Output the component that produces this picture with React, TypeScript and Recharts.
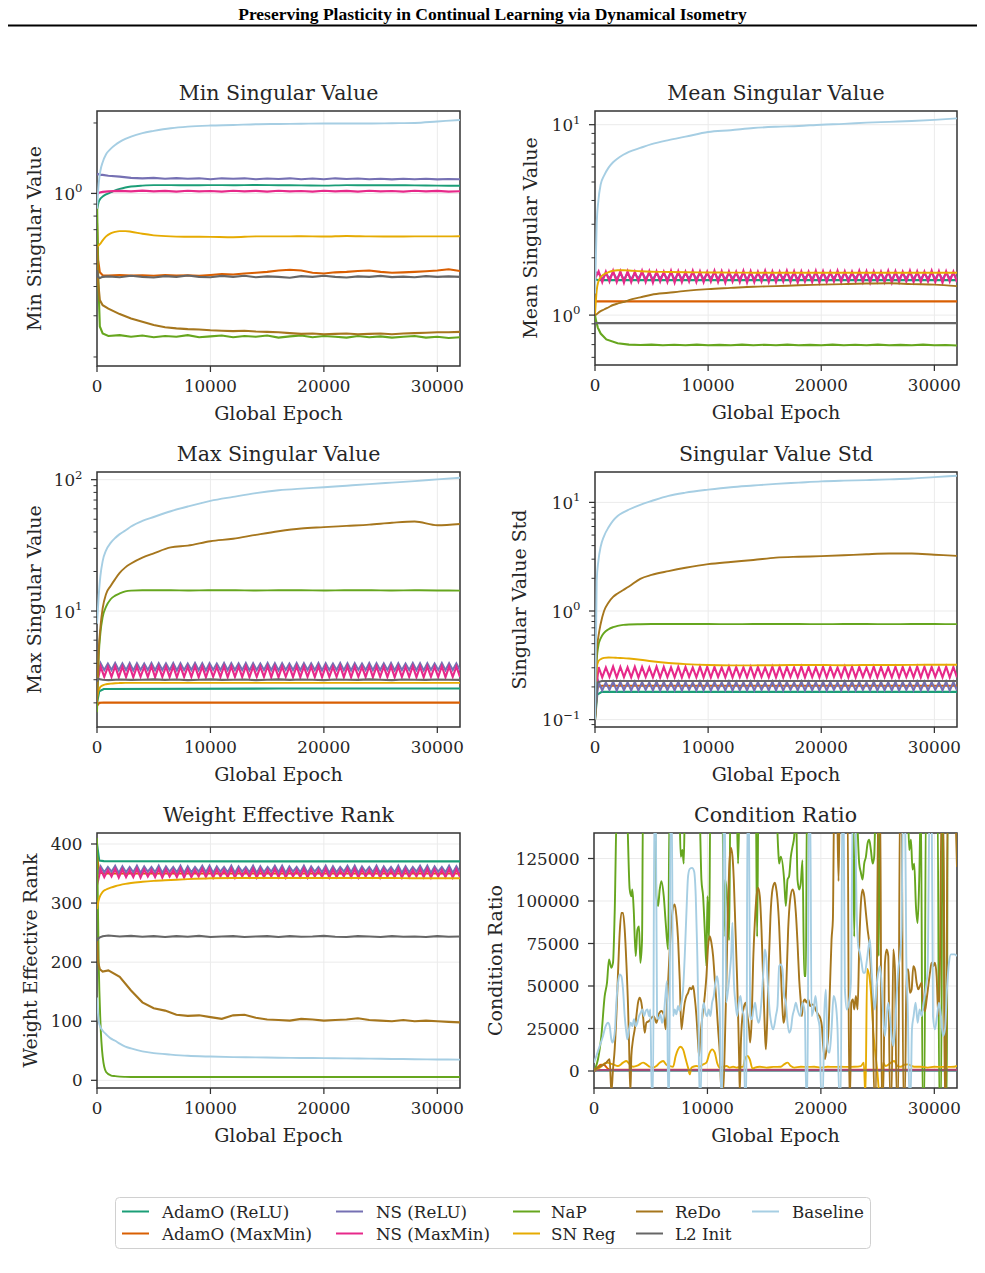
import React from 'react'
import { LineChart, Line, XAxis, YAxis, CartesianGrid, ReferenceArea } from 'recharts'

const NAMES = ['AdamO (ReLU)', 'AdamO (MaxMin)', 'NS (ReLU)', 'NS (MaxMin)', 'NaP', 'SN Reg', 'ReDo', 'L2 Init', 'Baseline']
const COLORS: Record<string, string> = {
  'AdamO (ReLU)': '#1b9e77',
  'AdamO (MaxMin)': '#d95f02',
  'NS (ReLU)': '#7570b3',
  'NS (MaxMin)': '#e7298a',
  'NaP': '#66a61e',
  'SN Reg': '#e6ab02',
  'ReDo': '#a6761d',
  'L2 Init': '#666666',
  'Baseline': '#a6cee3',
}

const X_TICKS = [0, 10000, 20000, 30000]

// sampling grids (global epoch)
const SMOOTH_X = [0, 150, 300, 500, 800, 1200, 1600, 2000, 2500, 3000, 4000, 5000, 6500, 8000, 10000, 12000, 14000, 16000, 18000, 20000, 22000, 24000, 26000, 28000, 30000, 32000]
const NOISY_X = [0, 100, 250, 500, 1000, 2000, 3000, 4000, 5000, 6000, 7000, 8000, 9000, 10000, 11000, 12000, 13000, 14000, 15000, 16000, 17000, 18000, 19000, 20000, 21000, 22000, 23000, 24000, 25000, 26000, 27000, 28000, 29000, 30000, 31000, 32000]
const START_X = [0, 200, 600, 16000, 32000]
const ZIG_X = [
  0, 320, 640, 960, 1280, 1600, 1920, 2240, 2560, 2880,
  3200, 3520, 3840, 4160, 4480, 4800, 5120, 5440, 5760, 6080,
  6400, 6720, 7040, 7360, 7680, 8000, 8320, 8640, 8960, 9280,
  9600, 9920, 10240, 10560, 10880, 11200, 11520, 11840, 12160, 12480,
  12800, 13120, 13440, 13760, 14080, 14400, 14720, 15040, 15360, 15680,
  16000, 16320, 16640, 16960, 17280, 17600, 17920, 18240, 18560, 18880,
  19200, 19520, 19840, 20160, 20480, 20800, 21120, 21440, 21760, 22080,
  22400, 22720, 23040, 23360, 23680, 24000, 24320, 24640, 24960, 25280,
  25600, 25920, 26240, 26560, 26880, 27200, 27520, 27840, 28160, 28480,
  28800, 29120, 29440, 29760, 30080, 30400, 30720, 31040, 31360, 31680,
  32000,
]

// ---- Min Singular Value ----
const MIN_ADAMO_RELU = [0.85, 0.92, 0.95, 0.97, 0.99, 1.01, 1.03, 1.045, 1.06, 1.07, 1.08, 1.085, 1.085, 1.083, 1.085, 1.084, 1.086, 1.084, 1.082, 1.08, 1.085, 1.083, 1.084, 1.082, 1.08, 1.078]
const MIN_ADAMO_MAXMIN = [0.75, 0.52, 0.46, 0.447, 0.446, 0.448, 0.446, 0.447, 0.445, 0.448, 0.446, 0.447, 0.445, 0.448, 0.452, 0.45, 0.455, 0.458, 0.462, 0.468, 0.472, 0.468, 0.458, 0.455, 0.46, 0.462, 0.466, 0.468, 0.462, 0.458, 0.46, 0.462, 0.465, 0.468, 0.474, 0.466]
const MIN_NS_RELU = [1.2, 1.21, 1.2, 1.2, 1.19, 1.18, 1.165, 1.16, 1.165, 1.155, 1.162, 1.155, 1.16, 1.15, 1.16, 1.155, 1.16, 1.15, 1.158, 1.152, 1.16, 1.15, 1.158, 1.15, 1.16, 1.152, 1.158, 1.15, 1.155, 1.148, 1.155, 1.15, 1.156, 1.148, 1.152, 1.15]
const MIN_NS_MAXMIN = [0.99, 1.0, 1.01, 1.015, 1.02, 1.025, 1.02, 1.028, 1.02, 1.025, 1.018, 1.026, 1.02, 1.024, 1.018, 1.027, 1.02, 1.025, 1.018, 1.026, 1.02, 1.024, 1.018, 1.027, 1.02, 1.025, 1.018, 1.026, 1.02, 1.024, 1.018, 1.026, 1.02, 1.025, 1.018, 1.022]
const MIN_NAP = [0.95, 0.45, 0.27, 0.252, 0.246, 0.248, 0.244, 0.247, 0.243, 0.246, 0.244, 0.248, 0.243, 0.245, 0.247, 0.243, 0.246, 0.244, 0.247, 0.242, 0.245, 0.247, 0.243, 0.246, 0.244, 0.242, 0.246, 0.243, 0.245, 0.242, 0.244, 0.246, 0.242, 0.244, 0.241, 0.243]
const MIN_SN_REG = [0.59, 0.6, 0.61, 0.63, 0.655, 0.675, 0.685, 0.69, 0.69, 0.686, 0.672, 0.662, 0.655, 0.653, 0.652, 0.65, 0.655, 0.655, 0.656, 0.654, 0.658, 0.655, 0.654, 0.655, 0.655, 0.656]
const MIN_REDO = [0.6, 0.42, 0.35, 0.333, 0.322, 0.305, 0.292, 0.283, 0.274, 0.268, 0.265, 0.263, 0.262, 0.26, 0.259, 0.258, 0.259, 0.257, 0.256, 0.255, 0.253, 0.251, 0.252, 0.25, 0.251, 0.252, 0.25, 0.251, 0.252, 0.25, 0.252, 0.253, 0.254, 0.255, 0.255, 0.256]
const MIN_L2 = [0.47, 0.44, 0.435, 0.44, 0.442, 0.438, 0.445, 0.44, 0.437, 0.443, 0.44, 0.446, 0.44, 0.438, 0.444, 0.44, 0.445, 0.438, 0.442, 0.44, 0.436, 0.443, 0.44, 0.445, 0.44, 0.437, 0.442, 0.44, 0.444, 0.439, 0.441, 0.438, 0.443, 0.44, 0.442, 0.44]
const MIN_BASELINE = [0.86, 1.1, 1.25, 1.36, 1.47, 1.55, 1.61, 1.66, 1.71, 1.75, 1.81, 1.85, 1.9, 1.93, 1.95, 1.96, 1.975, 1.98, 1.985, 1.99, 1.99, 1.99, 1.995, 2.0, 2.03, 2.06]

// ---- Mean Singular Value ----
const MEAN_ADAMO_RELU = [1.55, 1.53, 1.527, 1.526, 1.526]
const MEAN_ADAMO_MAXMIN = [1.18, 1.18, 1.18, 1.18, 1.18]
const MEAN_NS_RELU = [
  1.68, 1.66, 1.55, 1.65, 1.56, 1.67, 1.55, 1.66, 1.54, 1.66,
  1.55, 1.65, 1.56, 1.67, 1.55, 1.66, 1.54, 1.66, 1.56, 1.65,
  1.55, 1.67, 1.54, 1.66, 1.55, 1.65, 1.56, 1.67, 1.55, 1.66,
  1.55, 1.65, 1.56, 1.67, 1.55, 1.66, 1.54, 1.66, 1.56, 1.65,
  1.55, 1.67, 1.54, 1.66, 1.55, 1.65, 1.56, 1.67, 1.55, 1.66,
  1.55, 1.65, 1.56, 1.67, 1.55, 1.66, 1.54, 1.66, 1.56, 1.65,
  1.55, 1.67, 1.54, 1.66, 1.55, 1.65, 1.56, 1.67, 1.55, 1.66,
  1.55, 1.65, 1.56, 1.67, 1.55, 1.66, 1.54, 1.66, 1.56, 1.65,
  1.55, 1.67, 1.54, 1.66, 1.55, 1.65, 1.56, 1.67, 1.55, 1.66,
  1.55, 1.65, 1.56, 1.67, 1.55, 1.66, 1.54, 1.66, 1.56, 1.65,
  1.55,
]
const MEAN_NS_MAXMIN = [
  1.55, 1.7, 1.49, 1.69, 1.5, 1.71, 1.49, 1.7, 1.48, 1.7,
  1.49, 1.69, 1.5, 1.71, 1.49, 1.7, 1.48, 1.7, 1.5, 1.69,
  1.49, 1.71, 1.48, 1.7, 1.49, 1.69, 1.5, 1.71, 1.49, 1.7,
  1.49, 1.69, 1.5, 1.71, 1.49, 1.7, 1.48, 1.7, 1.5, 1.69,
  1.49, 1.71, 1.48, 1.7, 1.49, 1.69, 1.5, 1.71, 1.49, 1.7,
  1.49, 1.69, 1.5, 1.71, 1.49, 1.7, 1.48, 1.7, 1.5, 1.69,
  1.49, 1.71, 1.48, 1.7, 1.49, 1.69, 1.5, 1.71, 1.49, 1.7,
  1.49, 1.69, 1.5, 1.71, 1.49, 1.7, 1.48, 1.7, 1.5, 1.69,
  1.49, 1.71, 1.48, 1.7, 1.49, 1.69, 1.5, 1.71, 1.49, 1.7,
  1.49, 1.69, 1.5, 1.71, 1.49, 1.7, 1.48, 1.7, 1.5, 1.69,
  1.49,
]
const MEAN_NAP = [1.0, 0.93, 0.86, 0.8, 0.745, 0.712, 0.7, 0.697, 0.7, 0.694, 0.699, 0.695, 0.7, 0.694, 0.698, 0.695, 0.7, 0.694, 0.699, 0.695, 0.7, 0.694, 0.698, 0.695, 0.7, 0.694, 0.699, 0.695, 0.7, 0.694, 0.698, 0.695, 0.7, 0.694, 0.697, 0.693]
const MEAN_SN_REG = [1.0, 1.35, 1.5, 1.58, 1.64, 1.68, 1.71, 1.72, 1.72, 1.715, 1.7, 1.69, 1.685, 1.68, 1.675, 1.672, 1.67, 1.67, 1.668, 1.668, 1.67, 1.668, 1.668, 1.67, 1.668, 1.668]
const MEAN_REDO = [1.0, 1.01, 1.03, 1.05, 1.07, 1.1, 1.13, 1.15, 1.17, 1.2, 1.24, 1.28, 1.31, 1.34, 1.37, 1.39, 1.41, 1.42, 1.435, 1.445, 1.455, 1.465, 1.47, 1.455, 1.445, 1.42]
const MEAN_L2 = [0.908, 0.908, 0.908, 0.908, 0.908]
const MEAN_BASELINE = [1.3, 3.0, 4.0, 4.85, 5.4, 5.95, 6.35, 6.65, 6.95, 7.2, 7.55, 7.9, 8.3, 8.65, 9.15, 9.35, 9.6, 9.75, 9.85, 10.0, 10.1, 10.25, 10.35, 10.45, 10.6, 10.8]

// ---- Max Singular Value ----
const MAX_ADAMO_RELU = [2.0, 2.45, 2.55, 2.57, 2.57]
const MAX_ADAMO_MAXMIN = [1.9, 2.0, 2.01, 2.01, 2.01]
const MAX_NS_RELU = [
  3.0, 4.0, 3.55, 3.98, 3.56, 4.02, 3.54, 3.99, 3.55, 4.01,
  3.53, 4.0, 3.56, 3.98, 3.55, 4.02, 3.54, 4.0, 3.56, 3.99,
  3.55, 4.01, 3.53, 4.0, 3.55, 3.98, 3.56, 4.02, 3.54, 4.0,
  3.53, 4.0, 3.56, 3.98, 3.55, 4.02, 3.54, 4.0, 3.56, 3.99,
  3.55, 4.01, 3.53, 4.0, 3.55, 3.98, 3.56, 4.02, 3.54, 4.0,
  3.53, 4.0, 3.56, 3.98, 3.55, 4.02, 3.54, 4.0, 3.56, 3.99,
  3.55, 4.01, 3.53, 4.0, 3.55, 3.98, 3.56, 4.02, 3.54, 4.0,
  3.53, 4.0, 3.56, 3.98, 3.55, 4.02, 3.54, 4.0, 3.56, 3.99,
  3.55, 4.01, 3.53, 4.0, 3.55, 3.98, 3.56, 4.02, 3.54, 4.0,
  3.53, 4.0, 3.56, 3.98, 3.55, 4.02, 3.54, 4.0, 3.56, 3.99,
  3.55,
]
const MAX_NS_MAXMIN = [
  2.8, 3.78, 3.15, 3.76, 3.16, 3.8, 3.14, 3.77, 3.15, 3.79,
  3.13, 3.78, 3.16, 3.76, 3.15, 3.8, 3.14, 3.78, 3.16, 3.77,
  3.15, 3.79, 3.13, 3.78, 3.15, 3.76, 3.16, 3.8, 3.14, 3.78,
  3.13, 3.78, 3.16, 3.76, 3.15, 3.8, 3.14, 3.78, 3.16, 3.77,
  3.15, 3.79, 3.13, 3.78, 3.15, 3.76, 3.16, 3.8, 3.14, 3.78,
  3.13, 3.78, 3.16, 3.76, 3.15, 3.8, 3.14, 3.78, 3.16, 3.77,
  3.15, 3.79, 3.13, 3.78, 3.15, 3.76, 3.16, 3.8, 3.14, 3.78,
  3.13, 3.78, 3.16, 3.76, 3.15, 3.8, 3.14, 3.78, 3.16, 3.77,
  3.15, 3.79, 3.13, 3.78, 3.15, 3.76, 3.16, 3.8, 3.14, 3.78,
  3.13, 3.78, 3.16, 3.76, 3.15, 3.8, 3.14, 3.78, 3.16, 3.77,
  3.15,
]
const MAX_NAP = [1.7, 4.5, 6.8, 9.0, 10.8, 12.3, 13.1, 13.6, 14.1, 14.3, 14.4, 14.4, 14.4, 14.35, 14.4, 14.4, 14.35, 14.4, 14.4, 14.35, 14.4, 14.4, 14.35, 14.4, 14.35, 14.3]
const MAX_SN_REG = [2.2, 2.5, 2.65, 2.72, 2.77, 2.8, 2.82, 2.83, 2.84, 2.84, 2.84, 2.84, 2.84, 2.84, 2.84, 2.84, 2.84, 2.84, 2.84, 2.84, 2.84, 2.84, 2.84, 2.84, 2.84, 2.84]
const MAX_REDO = [2.0, 5.0, 7.5, 10.5, 13.5, 15.5, 17.5, 19.5, 21.5, 23.0, 25.5, 27.5, 30.5, 31.5, 34.0, 35.5, 38.0, 40.5, 42.5, 43.5, 44.5, 45.5, 47.0, 48.0, 45.0, 46.0]
const MAX_L2 = [2.9, 3.05, 3.03, 3.0, 2.98, 3.01, 2.99, 3.0, 3.02, 2.99, 3.01, 2.98, 3.0, 3.02, 2.99, 3.0, 3.01, 2.98, 3.0, 3.02, 2.99, 3.01, 3.0, 2.98, 3.01, 3.0, 2.99, 3.02, 3.0, 2.98, 3.01, 3.0, 2.99, 3.01, 3.0, 2.99]
const MAX_BASELINE = [8.0, 13.0, 18.5, 24.0, 29.0, 33.0, 36.0, 38.5, 41.0, 44.0, 48.5, 52.0, 57.5, 62.5, 69.0, 74.0, 79.0, 83.0, 85.5, 87.5, 90.0, 92.5, 95.0, 97.5, 100.5, 103.5]

// ---- Singular Value Std ----
const STD_ADAMO_RELU = [0.1, 0.17, 0.18, 0.18, 0.18]
const STD_ADAMO_MAXMIN = [0.1, 0.2, 0.205, 0.205, 0.205]
const STD_NS_RELU = [
  0.12, 0.222, 0.186, 0.22, 0.188, 0.224, 0.185, 0.222, 0.187, 0.221,
  0.186, 0.223, 0.185, 0.222, 0.188, 0.22, 0.186, 0.224, 0.185, 0.222,
  0.187, 0.221, 0.186, 0.223, 0.185, 0.222, 0.188, 0.22, 0.186, 0.224,
  0.186, 0.223, 0.185, 0.222, 0.188, 0.22, 0.186, 0.224, 0.185, 0.222,
  0.187, 0.221, 0.186, 0.223, 0.185, 0.222, 0.188, 0.22, 0.186, 0.224,
  0.186, 0.223, 0.185, 0.222, 0.188, 0.22, 0.186, 0.224, 0.185, 0.222,
  0.187, 0.221, 0.186, 0.223, 0.185, 0.222, 0.188, 0.22, 0.186, 0.224,
  0.186, 0.223, 0.185, 0.222, 0.188, 0.22, 0.186, 0.224, 0.185, 0.222,
  0.187, 0.221, 0.186, 0.223, 0.185, 0.222, 0.188, 0.22, 0.186, 0.224,
  0.186, 0.223, 0.185, 0.222, 0.188, 0.22, 0.186, 0.224, 0.185, 0.222,
  0.186,
]
const STD_NS_MAXMIN = [
  0.15, 0.305, 0.245, 0.302, 0.247, 0.308, 0.244, 0.305, 0.246, 0.303,
  0.245, 0.307, 0.244, 0.305, 0.247, 0.302, 0.245, 0.308, 0.244, 0.305,
  0.246, 0.303, 0.245, 0.307, 0.244, 0.305, 0.247, 0.302, 0.245, 0.308,
  0.245, 0.307, 0.244, 0.305, 0.247, 0.302, 0.245, 0.308, 0.244, 0.305,
  0.246, 0.303, 0.245, 0.307, 0.244, 0.305, 0.247, 0.302, 0.245, 0.308,
  0.245, 0.307, 0.244, 0.305, 0.247, 0.302, 0.245, 0.308, 0.244, 0.305,
  0.246, 0.303, 0.245, 0.307, 0.244, 0.305, 0.247, 0.302, 0.245, 0.308,
  0.245, 0.307, 0.244, 0.305, 0.247, 0.302, 0.245, 0.308, 0.244, 0.305,
  0.246, 0.303, 0.245, 0.307, 0.244, 0.305, 0.247, 0.302, 0.245, 0.308,
  0.245, 0.307, 0.244, 0.305, 0.247, 0.302, 0.245, 0.308, 0.244, 0.305,
  0.245,
]
const STD_NAP = [0.1, 0.35, 0.48, 0.56, 0.63, 0.68, 0.71, 0.73, 0.745, 0.752, 0.756, 0.758, 0.758, 0.758, 0.758, 0.757, 0.758, 0.758, 0.758, 0.757, 0.758, 0.758, 0.757, 0.758, 0.758, 0.757]
const STD_SN_REG = [0.1, 0.3, 0.345, 0.36, 0.37, 0.373, 0.372, 0.37, 0.368, 0.365, 0.356, 0.345, 0.332, 0.324, 0.318, 0.316, 0.316, 0.317, 0.318, 0.318, 0.317, 0.318, 0.318, 0.319, 0.32, 0.32]
const STD_REDO = [0.12, 0.42, 0.58, 0.76, 1.0, 1.2, 1.35, 1.45, 1.56, 1.68, 1.98, 2.15, 2.33, 2.5, 2.7, 2.83, 2.95, 3.1, 3.16, 3.2, 3.26, 3.33, 3.38, 3.38, 3.3, 3.22]
const STD_L2 = [0.1, 0.22, 0.227, 0.227, 0.227]
const STD_BASELINE = [0.1, 1.9, 2.9, 3.9, 4.9, 5.9, 6.8, 7.5, 8.1, 8.6, 9.5, 10.3, 11.5, 12.3, 13.1, 13.8, 14.3, 14.8, 15.2, 15.6, 15.85, 16.05, 16.3, 16.6, 17.1, 17.6]

// ---- Weight Effective Rank ----
const RANK_ADAMO_RELU = [400, 372, 371, 370.5, 370.5]
const RANK_ADAMO_MAXMIN = [380, 352, 350, 350, 350]
const RANK_NS_RELU = [
  345, 362, 352, 361, 353, 363, 351, 362, 352, 361,
  352, 363, 351, 362, 353, 361, 352, 363, 351, 362,
  353, 361, 352, 363, 351, 362, 352, 361, 353, 363,
  352, 363, 351, 362, 353, 361, 352, 363, 351, 362,
  353, 361, 352, 363, 351, 362, 352, 361, 353, 363,
  352, 363, 351, 362, 353, 361, 352, 363, 351, 362,
  353, 361, 352, 363, 351, 362, 352, 361, 353, 363,
  352, 363, 351, 362, 353, 361, 352, 363, 351, 362,
  353, 361, 352, 363, 351, 362, 352, 361, 353, 363,
  352, 363, 351, 362, 353, 361, 352, 363, 351, 362,
  352,
]
const RANK_NS_MAXMIN = [
  330, 357, 344, 356, 345, 358, 343, 357, 344, 356,
  344, 358, 343, 357, 345, 356, 344, 358, 343, 357,
  345, 356, 344, 358, 343, 357, 344, 356, 345, 358,
  344, 358, 343, 357, 345, 356, 344, 358, 343, 357,
  345, 356, 344, 358, 343, 357, 344, 356, 345, 358,
  344, 358, 343, 357, 345, 356, 344, 358, 343, 357,
  345, 356, 344, 358, 343, 357, 344, 356, 345, 358,
  344, 358, 343, 357, 345, 356, 344, 358, 343, 357,
  345, 356, 344, 358, 343, 357, 344, 356, 345, 358,
  344, 358, 343, 357, 345, 356, 344, 358, 343, 357,
  344,
]
const RANK_NAP = [410, 200, 100, 40, 14, 8.5, 7, 6.2, 5.8, 5.6, 5.5, 5.5, 5.5, 5.5, 5.5, 5.5, 5.5, 5.5, 5.5, 5.5, 5.5, 5.5, 5.5, 5.5, 5.5, 5.5]
const RANK_SN_REG = [290, 305, 313, 319, 323, 326, 328.5, 330.5, 332.5, 334, 336, 337.5, 339, 340.5, 342, 342.5, 342.5, 342.5, 342.5, 342.5, 342.5, 342.5, 342.5, 342, 342, 342]
const RANK_REDO = [240, 200, 188, 184, 186, 175, 152, 132, 122, 118, 111, 109, 110, 107, 104, 110, 111, 106, 103, 102, 101, 104, 103, 101, 102, 103, 105, 102, 101, 100, 102, 100, 101, 100, 99, 98]
const RANK_L2 = [236, 240, 242, 244, 245, 243.5, 244.5, 243, 244, 242.5, 244, 243, 244.5, 242.5, 243.5, 244, 242.5, 243.5, 244, 242.5, 244, 243, 243.5, 244.5, 243, 242.5, 244, 243.5, 242.5, 244, 243, 243.5, 242.5, 244, 243, 243.5]
const RANK_BASELINE = [140, 100, 90, 84, 78, 71, 67, 62, 57, 54, 49, 46, 43.5, 41.5, 40.2, 39.3, 38.8, 38.3, 37.9, 37.6, 37.2, 36.7, 36.2, 35.7, 35.3, 35.0]

// ---- Condition Ratio ----
const COND_ADAMO_RELU = [0, 300, 300, 300, 300]
const COND_NS_RELU = [0, 500, 500, 500, 500]
const COND_NS_MAXMIN = [0, 600, 600, 600, 600]
const COND_L2 = [0, 400, 400, 400, 400]
const COND_ADAMO_MAXMIN_X = [0, 300, 600, 900, 1200, 1500, 32000]
const COND_ADAMO_MAXMIN_Y = [0, 2000, 3700, 3500, 1500, 700, 700]
const COND_NAP_X = [
  0, 353, 647, 941, 1147, 1323, 1529, 1676, 1823, 2030,
  2853, 3147, 3294, 3382, 3500, 3676, 3823, 3970, 4088, 4235,
  4323, 5353, 5500, 5647, 5794, 5940, 6147, 6323, 6530, 6676,
  7500, 7647, 7794, 7911, 8030, 9264, 9470, 9617, 9764, 9911,
  10000, 10150, 10260, 11320, 11440, 11560, 11680, 11790, 11910, 12030,
  12560, 12700, 12850, 14260, 14380, 14500, 16030, 16240, 16320, 16470,
  16760, 16910, 17060, 17200, 17350, 17500, 17650, 17790, 17940, 18090,
  18230, 18380, 18530, 18680, 18770, 22790, 22940, 23090, 23380, 23530,
  23680, 23820, 23970, 24120, 24260, 24410, 24560, 24700, 24850, 25000,
  25090, 25230, 27640, 27790, 27940, 28080, 28230, 28380, 28530, 28670,
  28820, 28970, 29120, 29260, 30290, 30440, 30590, 30730, 31030, 31100,
  31180, 32000,
]
const COND_NAP_Y = [
  0, 6900, 20600, 44000, 52000, 65600, 60700, 63700, 93000, 160000,
  160000, 106800, 102800, 106800, 95000, 67600, 83000, 85000, 63700, 77000,
  160000, 160000, 103000, 97000, 106800, 111700, 103000, 87000, 71500, 160000,
  160000, 126000, 130000, 122000, 160000, 160000, 112600, 102800, 83000, 61700,
  102800, 77000, 160000, 160000, 79000, 112600, 106800, 93000, 77000, 160000,
  160000, 122000, 160000, 160000, 79000, 160000, 160000, 130000, 122000, 126000,
  112600, 97000, 112600, 114600, 126000, 132000, 138000, 160000, 112600, 106800,
  110700, 124000, 55800, 55800, 160000, 160000, 79000, 160000, 122000, 116600,
  112600, 122000, 126000, 134000, 136000, 130000, 122000, 126000, 160000, 160000,
  67600, 160000, 160000, 130000, 136000, 118500, 122000, 97000, 87000, 112600,
  160000, -20000, -20000, 160000, 160000, -20000, -20000, 160000, -20000, -20000,
  160000, 160000,
]
const COND_SN_REG_X = [
  0, 500, 1090, 1680, 2120, 2560, 2850, 3150, 3440, 3880,
  4320, 4620, 4910, 5210, 5500, 5790, 6090, 6380, 6680, 6970,
  7200, 7410, 7620, 7850, 8090, 8290, 8440, 8590, 8740, 9030,
  9320, 9620, 9910, 10200, 10410, 10650, 10850, 11090, 11380, 11680,
  11970, 12260, 12560, 12850, 13150, 13290, 13530, 13730, 13970, 14180,
  14620, 15210, 15800, 16470, 16760, 17060, 17350, 17650, 18240, 18820,
  19410, 20000, 20590, 21180, 21760, 22350, 22940, 23530, 23780, 23930,
  24080, 24370, 24660, 24960, 25190, 25310, 25490, 25700, 26180, 26470,
  26760, 27060, 27350, 27640, 28230, 28820, 29410, 30000, 30590, 31180,
  31760, 32000,
]
const COND_SN_REG_Y = [
  0, 2000, 4900, 3900, 2900, 4900, 5900, 3900, 2500, 3300,
  4900, 3900, 2500, 2000, 2900, 4900, 5900, 3700, 2900, 2500,
  8800, 12700, 14300, 12700, 6900, 2000, -2000, 2000, 2500, 2900,
  2500, 3900, 4900, 10800, 12700, 10800, 4900, 2000, 2500, 2900,
  2000, 2500, 2000, 2400, 2500, 6900, 8800, 6900, 1400, 2000,
  2500, 2000, 2400, 2500, 3900, 4900, 2900, 2000, 2500, 2400,
  2500, 2000, 2500, 2400, 2500, 2400, 2500, 2900, 4900, -15000,
  60000, 50000, 20000, 1000, -15000, -15000, 4900, 2900, 4900, 5900,
  2900, 2500, 3700, 3900, 2500, 2500, 2000, 2500, 2400, 2400,
  2500, 3000,
]
const COND_REDO_X = [
  0, 500, 1088, 1382, 1529, 1676, 1823, 1970, 2118, 2265,
  2412, 2559, 2706, 2853, 3000, 3088, 3206, 3294, 3441, 3588,
  3735, 3882, 4029, 4176, 4323, 4470, 4617, 4853, 5059, 5265,
  5500, 5706, 5941, 6147, 6323, 6441, 6618, 6823, 6970, 7117,
  7264, 7411, 7558, 7706, 7852, 8000, 8147, 8294, 8441, 8588,
  8735, 8882, 9029, 9176, 9264, 9382, 9558, 9764, 9911, 10058,
  10205, 10352, 10500, 10646, 10794, 10941, 11088, 11235, 11382, 11529,
  11676, 11794, 11911, 12058, 12205, 12323, 12470, 12617, 12735, 12794,
  12852, 12941, 13088, 13235, 13382, 13529, 13676, 13764, 13911, 14029,
  14176, 14323, 14470, 14617, 14764, 14911, 15058, 15147, 15264, 15411,
  15558, 15735, 15941, 16029, 16176, 16323, 16470, 16617, 16705, 16823,
  16970, 17117, 17294, 17500, 17647, 17794, 17941, 18088, 18235, 18323,
  18441, 18588, 18735, 18882, 19058, 19235, 19411, 19588, 19764, 19941,
  20088, 20205, 20352, 20500, 20646, 20794, 20941, 21059, 21176, 21411,
  21558, 21676, 22352, 22500, 22588, 22676, 22823, 22941, 23088, 23235,
  23382, 23529, 23676, 23823, 23970, 24117, 24264, 24411, 24558, 24705,
  24852, 25058, 25235, 25352, 25500, 25647, 25794, 25941, 26088, 26235,
  26382, 26529, 26676, 26823, 26970, 27117, 27264, 27411, 27558, 27705,
  27852, 28000, 28147, 28294, 28441, 28588, 28735, 28882, 29029, 29176,
  29323, 29470, 29617, 29764, 29911, 30058, 30205, 30352, 30499, 30646,
  30793, 30911, 31029, 31176, 31764, 32000,
]
const COND_REDO_Y = [
  1000, 2500, 4900, 6900, -12700, 1000, 12700, 32300, 57800, 81300,
  93000, 93000, 83300, 63700, 38200, 16700, -12700, 8800, 18600, 24500,
  32300, 40200, 43100, 40200, 32300, 22500, 28400, 29400, 31300, 32300,
  28400, 33300, 35300, 33300, 24500, 40200, 63700, 87200, 96000, 98000,
  91100, 77400, 53900, 24500, 32300, 40200, 44100, 46000, 49000, 48000,
  50000, 43100, 32300, 16700, 8800, 20600, 32300, 44100, 55800, 73500,
  79300, 75400, 67600, 53900, 40200, 24500, 10800, -12700, -12700, 14700,
  53900, 93000, 118500, 131300, 126400, 112600, 83300, 53900, 24500, 6900,
  -12700, 14700, 32300, 38200, 40200, 32300, 24500, 16700, 32300, 63700,
  87200, 102800, 107700, 102800, 83300, 53900, 24500, 12700, 28400, 63700,
  91100, 106800, 110700, 108700, 100900, 85200, 59700, 36200, 28400, 32300,
  53900, 83300, 100900, 106800, 103800, 93000, 75400, 53900, 40200, 32300,
  40200, 42100, 40200, 42100, 38200, 39200, 38200, 35300, 33300, 31300,
  26400, 14700, 6900, 12700, 20600, 48000, 77400, 89100, 160000, 160000,
  111700, 160000, 160000, -14700, -14700, 40200, 42100, 36200, 44100, 36200,
  73500, 98900, 106800, 102800, 93000, 83300, 75400, 59700, 40200, -14700,
  -14700, 160000, 160000, -14700, -14700, 63700, 71500, 67600, -14700, -14700,
  71500, 59700, -14700, -14700, 160000, 160000, -14700, -14700, 59700, 59700,
  46000, 48000, 61700, 59700, 51900, 48000, 50000, 51900, 38200, 35300,
  42100, 50000, 57800, 63700, 61700, 63700, 55800, 32300, 63700, 160000,
  160000, -14700, -14700, 160000, 160000, 120000,
]
const COND_BASELINE_X = [
  0, 206, 500, 794, 1029, 1235, 1382, 1529, 1618, 1735,
  1853, 1970, 2118, 2265, 2412, 2559, 2706, 2853, 2941, 3088,
  3235, 3382, 3529, 3676, 3823, 3970, 4117, 4264, 4411, 4558,
  4705, 4853, 4970, 5088, 5206, 5323, 5441, 5559, 5706, 5853,
  6000, 6147, 6294, 6441, 6529, 6647, 6735, 6853, 6970, 7117,
  7264, 7411, 7558, 7706, 7852, 8000, 8147, 8294, 8441, 8647,
  8823, 8970, 9088, 9206, 9294, 9411, 9529, 9676, 9823, 9970,
  10117, 10264, 10411, 10558, 10705, 10852, 10970, 11088, 11205, 11323,
  11412, 11529, 11647, 11823, 11970, 12088, 12205, 12323, 12470, 12617,
  12764, 12911, 13058, 13205, 13294, 13441, 13529, 13647, 13764, 13911,
  14058, 14205, 14352, 14500, 14646, 14794, 14941, 15058, 15176, 15323,
  15470, 15617, 15794, 15941, 16029, 16176, 16323, 16470, 16617, 16764,
  16911, 17058, 17205, 17352, 17500, 17647, 17794, 17941, 18176, 18382,
  18588, 18705, 18823, 18941, 19058, 19176, 19352, 19529, 19705, 19882,
  20029, 20176, 20294, 20441, 20588, 20764, 20941, 21117, 21294, 21470,
  21617, 21764, 21882, 22000, 22117, 22294, 22470, 22647, 22823, 23000,
  23147, 23294, 23441, 23588, 23735, 23882, 24029, 24176, 24323, 24470,
  24617, 24764, 24911, 25058, 25205, 25352, 25500, 25647, 25794, 25941,
  26088, 26235, 26382, 26529, 26676, 26823, 26970, 27117, 27235, 27411,
  27529, 27676, 27794, 27911, 28029, 28176, 28352, 28529, 28705, 28882,
  29058, 29235, 29411, 29588, 29764, 29882, 30058, 30235, 30411, 30588,
  30764, 30941, 31117, 31294, 31470, 31764, 32000,
]
const COND_BASELINE_Y = [
  4900, 8800, 14700, 20600, 26400, 28400, 26400, 18600, 16700, 18600,
  24500, 40200, 51900, 56800, 55800, 48000, 32300, 22500, 18600, 24500,
  28400, 26400, 30400, 26400, 28400, 32300, 34300, 36200, 32300, 35300,
  36200, 32300, 36200, -14700, -14700, 160000, 160000, 32300, 30400, 33300,
  28400, 32300, 44100, 52900, -14700, -14700, 160000, 160000, 32300, 36200,
  33300, 38200, 35300, 40200, 48000, 67600, 93000, 114600, 118900, 119500,
  117500, 102800, 73500, 34300, -14700, -14700, 32300, 40200, 34300, 32300,
  36200, 32300, 40200, 44100, 51900, 55800, 50000, 34300, -14700, -14700,
  160000, 160000, 40200, 48000, 57800, 67600, 87200, 53900, 40200, 32300,
  40200, 44100, 36200, 32300, -14700, -14700, 160000, 160000, 32300, 30400,
  36200, 40200, 32300, 28400, 32300, 44100, 59700, 71500, 67600, 51900,
  36200, 28400, 24500, 28400, 32300, 38200, 61700, 62700, 59700, 44100,
  40200, 28400, 22500, 24500, 32300, 36200, 40200, 36200, 32300, 40200,
  34300, -14700, -14700, 160000, 160000, 32300, 36200, 44100, 32300, 26400,
  -14700, -14700, 32300, 48000, 12700, 10800, 24500, 44100, 40200, 24500,
  -14700, -14700, 160000, 160000, 48000, 36200, 40200, 51900, 160000, 160000,
  97000, 73500, 69500, 63700, 57800, 57800, 63700, 71500, 77400, 59700,
  44100, 36200, 50000, 57800, 61700, 51900, 32300, 20600, 32300, 40200,
  32300, 20600, 14700, 24500, 44100, 59700, 67600, 83300, 160000, 160000,
  67600, 32300, -14700, -14700, 24500, 32300, 40200, 28400, 36200, 32300,
  40200, 48000, 59700, 160000, 160000, 32300, 24500, 32300, 40200, 32300,
  20600, 24500, 48000, 63700, 68600, 68600, 67600,
]

// ---- styling ----
const FONT = "'DejaVu Serif', serif"
const INK = '#262626'
const AXIS = '#333333'
const GRID = '#ebebeb'
const YW = 100
const XH = 60
const MT = 40
const MR = 20

type Curve = 'monotone' | 'linear'
type Series = { name: string; x: number[]; y: number[]; curve: Curve; opacity?: number }
type Panel = {
  title: string
  log: boolean
  domain: [number, number]
  majors: number[]
  minors: number[]
  series: Series[]
}

const s = (name: string, x: number[], y: number[], curve: Curve = 'monotone', opacity?: number): Series => ({ name, x, y, curve, opacity })

const PANELS: Panel[] = [
  {
    title: 'Min Singular Value', log: true, domain: [0.183, 2.25],
    majors: [1], minors: [0.2, 0.3, 0.4, 0.5, 0.6, 0.7, 0.8, 0.9, 2],
    series: [
      s('AdamO (ReLU)', SMOOTH_X, MIN_ADAMO_RELU),
      s('AdamO (MaxMin)', NOISY_X, MIN_ADAMO_MAXMIN, 'linear'),
      s('NS (ReLU)', NOISY_X, MIN_NS_RELU, 'linear'),
      s('NS (MaxMin)', NOISY_X, MIN_NS_MAXMIN, 'linear'),
      s('NaP', NOISY_X, MIN_NAP, 'linear'),
      s('SN Reg', SMOOTH_X, MIN_SN_REG),
      s('ReDo', NOISY_X, MIN_REDO, 'linear'),
      s('L2 Init', NOISY_X, MIN_L2, 'linear'),
      s('Baseline', SMOOTH_X, MIN_BASELINE),
    ],
  },
  {
    title: 'Mean Singular Value', log: true, domain: [0.547, 11.8],
    majors: [1, 10], minors: [0.6, 0.7, 0.8, 0.9, 2, 3, 4, 5, 6, 7, 8, 9],
    series: [
      s('AdamO (ReLU)', START_X, MEAN_ADAMO_RELU, 'linear'),
      s('AdamO (MaxMin)', START_X, MEAN_ADAMO_MAXMIN, 'linear'),
      s('NS (ReLU)', ZIG_X, MEAN_NS_RELU, 'linear'),
      s('NS (MaxMin)', ZIG_X, MEAN_NS_MAXMIN, 'linear'),
      s('NaP', NOISY_X, MEAN_NAP, 'linear'),
      s('SN Reg', SMOOTH_X, MEAN_SN_REG),
      s('ReDo', SMOOTH_X, MEAN_REDO),
      s('L2 Init', START_X, MEAN_L2, 'linear'),
      s('Baseline', SMOOTH_X, MEAN_BASELINE),
    ],
  },
  {
    title: 'Max Singular Value', log: true, domain: [1.31, 114.4],
    majors: [10, 100], minors: [2, 3, 4, 5, 6, 7, 8, 9, 20, 30, 40, 50, 60, 70, 80, 90],
    series: [
      s('AdamO (ReLU)', START_X, MAX_ADAMO_RELU, 'linear'),
      s('AdamO (MaxMin)', START_X, MAX_ADAMO_MAXMIN, 'linear'),
      s('NS (ReLU)', ZIG_X, MAX_NS_RELU, 'linear'),
      s('NS (MaxMin)', ZIG_X, MAX_NS_MAXMIN, 'linear'),
      s('NaP', SMOOTH_X, MAX_NAP),
      s('SN Reg', SMOOTH_X, MAX_SN_REG),
      s('ReDo', SMOOTH_X, MAX_REDO),
      s('L2 Init', NOISY_X, MAX_L2, 'linear'),
      s('Baseline', SMOOTH_X, MAX_BASELINE),
    ],
  },
  {
    title: 'Singular Value Std', log: true, domain: [0.0855, 19.05],
    majors: [0.1, 1, 10], minors: [0.09, 0.2, 0.3, 0.4, 0.5, 0.6, 0.7, 0.8, 0.9, 2, 3, 4, 5, 6, 7, 8, 9],
    series: [
      s('AdamO (ReLU)', START_X, STD_ADAMO_RELU, 'linear'),
      s('AdamO (MaxMin)', START_X, STD_ADAMO_MAXMIN, 'linear'),
      s('NS (ReLU)', ZIG_X, STD_NS_RELU, 'linear'),
      s('NS (MaxMin)', ZIG_X, STD_NS_MAXMIN, 'linear'),
      s('NaP', SMOOTH_X, STD_NAP),
      s('SN Reg', SMOOTH_X, STD_SN_REG),
      s('ReDo', SMOOTH_X, STD_REDO),
      s('L2 Init', START_X, STD_L2, 'linear'),
      s('Baseline', SMOOTH_X, STD_BASELINE),
    ],
  },
  {
    title: 'Weight Effective Rank', log: false, domain: [-13, 418.6],
    majors: [0, 100, 200, 300, 400], minors: [],
    series: [
      s('AdamO (ReLU)', START_X, RANK_ADAMO_RELU, 'linear'),
      s('AdamO (MaxMin)', START_X, RANK_ADAMO_MAXMIN, 'linear'),
      s('NS (ReLU)', ZIG_X, RANK_NS_RELU, 'linear'),
      s('NS (MaxMin)', ZIG_X, RANK_NS_MAXMIN, 'linear'),
      s('NaP', SMOOTH_X, RANK_NAP),
      s('SN Reg', SMOOTH_X, RANK_SN_REG),
      s('ReDo', NOISY_X, RANK_REDO, 'linear'),
      s('L2 Init', NOISY_X, RANK_L2, 'linear'),
      s('Baseline', SMOOTH_X, RANK_BASELINE),
    ],
  },
  {
    title: 'Condition Ratio', log: false, domain: [-10000, 140000],
    majors: [0, 25000, 50000, 75000, 100000, 125000], minors: [],
    series: [
      s('AdamO (ReLU)', START_X, COND_ADAMO_RELU, 'linear'),
      s('AdamO (MaxMin)', COND_ADAMO_MAXMIN_X, COND_ADAMO_MAXMIN_Y),
      s('NS (ReLU)', START_X, COND_NS_RELU, 'linear'),
      s('NS (MaxMin)', START_X, COND_NS_MAXMIN, 'linear'),
      s('NaP', COND_NAP_X, COND_NAP_Y),
      s('SN Reg', COND_SN_REG_X, COND_SN_REG_Y),
      s('ReDo', COND_REDO_X, COND_REDO_Y),
      s('L2 Init', START_X, COND_L2, 'linear', 0.6),
      s('Baseline', COND_BASELINE_X, COND_BASELINE_Y),
    ],
  },
]

// plot rectangles on the page + gap from axis to y-label baseline
const LAYOUT = [
  { left: 97, top: 111, width: 363, height: 255, labelGap: 56.5 },
  { left: 595, top: 111, width: 362, height: 254, labelGap: 58 },
  { left: 97, top: 472, width: 363, height: 255, labelGap: 56.5 },
  { left: 595, top: 472, width: 362, height: 255, labelGap: 69.5 },
  { left: 97, top: 833, width: 363, height: 255, labelGap: 60 },
  { left: 594, top: 833, width: 363, height: 255, labelGap: 92 },
]

const xTick = (props: any) => {
  const { x, y, payload } = props
  return (
    <g>
      <line x1={x} x2={x} y1={y} y2={y + 6} stroke={AXIS} strokeWidth={1.25} />
      <text x={x} y={y + 26} textAnchor="middle" fontSize={16.7} fontFamily={FONT} fill={INK}>{payload.value}</text>
    </g>
  )
}

const makeYTick = (p: Panel) => (props: any) => {
  const { x, y, payload } = props
  const v = payload.value
  const major = p.majors.includes(v)
  const exp = Math.round(Math.log10(v))
  return (
    <g>
      <line x1={x - (major ? 6 : 3.5)} x2={x} y1={y} y2={y} stroke={AXIS} strokeWidth={major ? 1.25 : 1} />
      {major && (p.log ? (
        <text x={x - 14.5} y={y + 6.5} textAnchor="end" fontSize={16.7} fontFamily={FONT} fill={INK}>
          10<tspan dy={-7.5} fontSize={11.7}>{exp < 0 ? '\u2212' + -exp : exp}</tspan>
        </text>
      ) : (
        <text x={x - 14.5} y={y + 6} textAnchor="end" fontSize={16.7} fontFamily={FONT} fill={INK}>{v}</text>
      ))}
    </g>
  )
}

function PanelChart({ p, box }: { p: Panel; box: typeof LAYOUT[number] }) {
  return (
    <div style={{ position: 'absolute', left: box.left - YW, top: box.top - MT }}>
      <LineChart width={box.width + YW + MR} height={box.height + MT + XH} margin={{ top: MT, right: MR, bottom: 0, left: 0 }}>
        <CartesianGrid stroke={GRID} strokeWidth={1} horizontalValues={p.majors} verticalValues={[10000, 20000, 30000]} />
        <XAxis
          type="number" dataKey="x" domain={[0, 32000]} ticks={X_TICKS} interval={0} height={XH}
          tickSize={0} tickMargin={0} tickLine={false} axisLine={false} tick={xTick} allowDataOverflow
        />
        <YAxis
          type="number" scale={p.log ? 'log' : 'linear'} domain={p.domain} ticks={[...p.majors, ...p.minors]}
          interval={0} width={YW} tickSize={0} tickMargin={0} tickLine={false} axisLine={false}
          tick={makeYTick(p)} allowDataOverflow
        />
        {p.series.map(sr => (
          <Line
            key={sr.name}
            data={sr.x.map((x, i) => ({ x, y: sr.y[i] }))}
            dataKey="y"
            type={sr.curve}
            stroke={COLORS[sr.name]}
            strokeWidth={sr.curve === 'linear' ? 2.1 : 1.9}
            strokeOpacity={sr.opacity ?? 1}
            dot={false}
            activeDot={false}
            isAnimationActive={false}
          />
        ))}
        <ReferenceArea x1={0} x2={32000} y1={p.domain[0]} y2={p.domain[1]} fill="none" stroke={AXIS} strokeWidth={1.5} ifOverflow="visible" />
      </LineChart>
    </div>
  )
}

const LEGEND_LINE_X = [122, 336, 513, 636, 752]
const LEGEND_TEXT_X = [162, 376, 551, 675, 792]
const LEGEND_ROW_Y = [1211.5, 1233.5]

export default function App() {
  return (
    <div style={{ position: 'relative', width: 985, height: 1273, background: '#fff', overflow: 'hidden' }}>
      <style>{'body{margin:0;background:#fff}'}</style>
      {PANELS.map((p, i) => <PanelChart key={p.title} p={p} box={LAYOUT[i]} />)}
      <svg width={985} height={1273} style={{ position: 'absolute', left: 0, top: 0, pointerEvents: 'none' }}>
        <text x={492.5} y={20} textAnchor="middle" fontSize={17.5} fontWeight="bold" fontFamily="'Liberation Serif', serif" fill="#000">
          Preserving Plasticity in Continual Learning via Dynamical Isometry
        </text>
        <line x1={8} x2={977} y1={25.5} y2={25.5} stroke="#000" strokeWidth={2} />
        {PANELS.map((p, i) => {
          const b = LAYOUT[i]
          const cx = b.left + b.width / 2
          const cy = b.top + b.height / 2
          return (
            <g key={p.title} fontFamily={FONT} fill={INK}>
              <text x={cx} y={b.top - 11.5} textAnchor="middle" fontSize={20.5}>{p.title}</text>
              <text x={cx} y={b.top + b.height + 53.5} textAnchor="middle" fontSize={19}>Global Epoch</text>
              <text transform={`translate(${b.left - b.labelGap},${cy}) rotate(-90)`} textAnchor="middle" fontSize={19}>{p.title}</text>
            </g>
          )
        })}
        <rect x={115.5} y={1197.5} width={755} height={51} rx={4} fill="#fff" stroke="#d0d0d0" strokeWidth={1} />
        {NAMES.map((name, i) => {
          const col = Math.floor(i / 2)
          const row = i % 2
          const y = LEGEND_ROW_Y[row]
          return (
            <g key={name}>
              <line x1={LEGEND_LINE_X[col]} x2={LEGEND_LINE_X[col] + 27} y1={y} y2={y} stroke={COLORS[name]} strokeWidth={2} />
              <text x={LEGEND_TEXT_X[col]} y={y + 6} fontSize={16.7} fontFamily={FONT} fill={INK}>{name}</text>
            </g>
          )
        })}
      </svg>
    </div>
  )
}
